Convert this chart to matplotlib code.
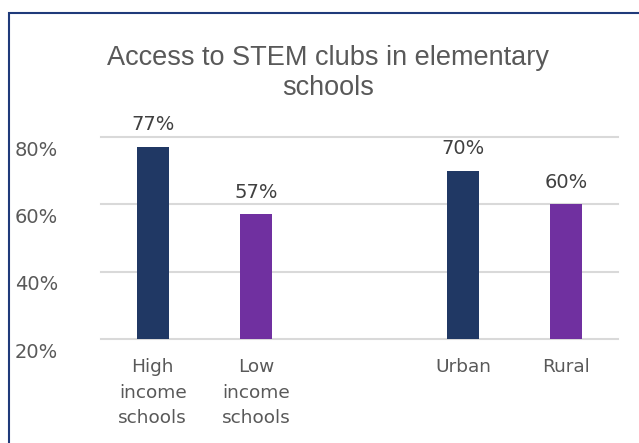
import matplotlib
matplotlib.use("Agg")
import matplotlib.pyplot as plt
from matplotlib.transforms import ScaledTranslation
from matplotlib.patches import Rectangle

title = "Access to STEM clubs in elementary\nschools"
group1_labels = ["High\nincome\nschools", "Low\nincome\nschools"]
group1_values = [77, 57]
group2_labels = ["Urban", "Rural"]
group2_values = [70, 60]
bar_colors = ["#203864", "#7030A0"]
y_ticks = [20, 40, 60, 80]

fig = plt.figure(figsize=(6.39, 4.43), dpi=100)
fig.patch.set_facecolor("white")
ax = fig.add_axes([101/639, 1-339/443, 517/639, 202/443])

labels = group1_labels + group2_labels
values = group1_values + group2_values
xs = list(range(len(group1_labels))) + [len(group1_labels) + 1 + i for i in range(len(group2_labels))]
colors = bar_colors * 2

bars = ax.bar(xs, [v - 20 for v in values], bottom=20, width=0.31, color=colors, zorder=3)
for x, v in zip(xs, values):
    ax.annotate(f"{v}%", (x, v), xytext=(0, 12), textcoords="offset points",
                ha="center", va="baseline", fontsize=14, color="#404040",
                family="DejaVu Sans", annotation_clip=False)

ax.set_xlim(-0.5, 4.5)
ax.set_ylim(20, 80)
ax.set_yticks(y_ticks)
ax.set_yticklabels([f"{t}%" for t in y_ticks], fontsize=14, color="#595959", family="DejaVu Sans")
ax.set_xticks(xs)
ax.set_xticklabels(labels, fontsize=13.3, color="#595959", family="DejaVu Sans", linespacing=1.53)
ax.tick_params(axis="y", length=0, pad=31)
ax.tick_params(axis="x", length=0, pad=14)
off = ScaledTranslation(0, -11/100, fig.dpi_scale_trans)
for lab in ax.get_yticklabels():
    lab.set_transform(lab.get_transform() + off)
ax.grid(axis="y", color="#D9D9D9", linewidth=1.5, zorder=0)
for gl in ax.get_ygridlines():
    gl.set_clip_on(False)
for s in ax.spines.values():
    s.set_visible(False)

fig.text(328/639, 1-95/443, title, ha="center", va="baseline", fontsize=19.5,
         color="#595959", family="Liberation Sans", linespacing=1.22)

fig.patches.append(Rectangle((9/639, -0.1), 1.0, 1-12.5/443 + 0.1, transform=fig.transFigure,
                             fill=False, edgecolor="#1F3A7A", linewidth=1.5))

fig.savefig("out.png", dpi=100)
